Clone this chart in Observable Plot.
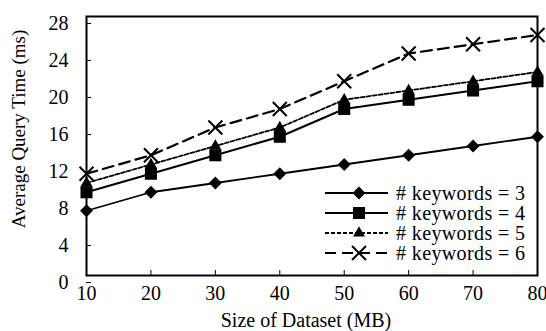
<!DOCTYPE html>
<html>
<head>
<meta charset="utf-8">
<script src="https://cdn.jsdelivr.net/npm/d3@7"></script>
<script src="https://cdn.jsdelivr.net/npm/@observablehq/plot@0.6"></script>
<style>
  html, body { margin: 0; padding: 0; background: #fff; }
  #chart svg { display: block; }
  #chart svg, #chart svg text { font-family: 'Liberation Serif', 'Times New Roman', serif !important; }
</style>
</head>
<body>
<div id="chart"></div>
<script>
// ---- data ----
const datasetSizes = [10, 20, 30, 40, 50, 60, 70, 80];
const kw3 = [7, 9, 10, 11, 12, 13, 14, 15];
const kw4 = [9, 11, 13, 15, 18, 19, 20, 21];
const kw5 = [10, 12, 14, 16, 19, 20, 21, 22];
const kw6 = [11, 13, 16, 18, 21, 24, 25, 26];
const seriesNames = ["# keywords = 3", "# keywords = 4", "# keywords = 5", "# keywords = 6"];
const yTicks = [0, 4, 8, 12, 16, 20, 24, 28];
const xTicks = [10, 20, 30, 40, 50, 60, 70, 80];
const xTitle = "Size of Dataset (MB)";
const yTitle = "Average Query Time (ms)";

// ---- styles ----
const font = "Liberation Serif, Times New Roman, serif";
const styles = [
  {symbol: "diamond2", r: 5.8, fill: "black", sw: 1.8, dash: null},
  {symbol: "square", r: 6.8, fill: "black", sw: 2, dash: null},
  {symbol: "triangle", r: 4.4, fill: "black", sw: 1.8, dash: "4,2"},
  {symbol: "times", r: 6.4, fill: "none", sw: 2.2, dash: "11,6"}
];
const values = [kw3, kw4, kw5, kw6];
const rows = [];
values.forEach((vals, s) => vals.forEach((v, i) => rows.push({x: datasetSizes[i], y: v, s})));

const marks = [];
values.forEach((vals, s) => {
  const data = rows.filter(d => d.s === s);
  const st = styles[s];
  marks.push(Plot.line(data, {x: "x", y: "y", stroke: "black", strokeWidth: st.sw, strokeDasharray: st.dash}));
});
values.forEach((vals, s) => {
  const data = rows.filter(d => d.s === s);
  const st = styles[s];
  marks.push(Plot.dot(data, {x: "x", y: "y", symbol: () => st.symbol, r: st.r,
    fill: st.fill === "none" ? "none" : "black", stroke: "black", strokeWidth: st.fill === "none" ? 2 : 0}));
});

const W = 546, H = 331;
const plot = Plot.plot({
  width: W, height: H,
  marginLeft: 86, marginRight: 9, marginTop: 16, marginBottom: 56,
  style: {fontFamily: font, fontSize: "20px", color: "black", background: "white"},
  x: {domain: [10, 80]},
  y: {domain: [0, 28]},
  symbol: {type: "identity"},
  marks: [
    Plot.axisX({ticks: xTicks, tickSize: -5, tickPadding: 15, tickFormat: d => String(d), label: null, fontSize: 20}),
    Plot.axisY({ticks: yTicks, tickSize: -5, tickPadding: 23, dy: 7, tickFormat: d => String(d), label: null, fontSize: 20}),
    ...marks,
    Plot.frame({stroke: "black", strokeWidth: 2})
  ]
});
document.getElementById("chart").appendChild(plot);

// ---- titles and legend ----
const svg = d3.select(plot);
svg.append("text").attr("x", 306).attr("y", 327)
  .attr("text-anchor", "middle").attr("font-size", 20).attr("fill", "black")
  .text(xTitle);
svg.append("text").attr("transform", "translate(25,129) rotate(-90)")
  .attr("text-anchor", "middle").attr("font-size", 19).attr("fill", "black")
  .text(yTitle);

const symMap = {diamond2: d3.symbolDiamond2, square: d3.symbolSquare, triangle: d3.symbolTriangle, times: d3.symbolTimes};
const lg = svg.append("g");
seriesNames.forEach((name, s) => {
  const st = styles[s];
  const y = 193 + s * 20;
  lg.append("line").attr("x1", 325).attr("x2", 388).attr("y1", y).attr("y2", y)
    .attr("stroke", "black").attr("stroke-width", st.sw)
    .attr("stroke-dasharray", st.dash);
  lg.append("path").attr("transform", `translate(359,${y})`)
    .attr("d", d3.symbol(symMap[st.symbol], Math.PI * st.r * st.r)())
    .attr("fill", st.fill === "none" ? "none" : "black")
    .attr("stroke", st.fill === "none" ? "black" : "none").attr("stroke-width", 2);
  lg.append("text").attr("x", 396).attr("y", y).attr("dy", "0.35em")
    .attr("text-anchor", "start").attr("textLength", 129)
    .attr("font-size", 20).attr("fill", "black").text(name);
});
</script>
</body>
</html>
